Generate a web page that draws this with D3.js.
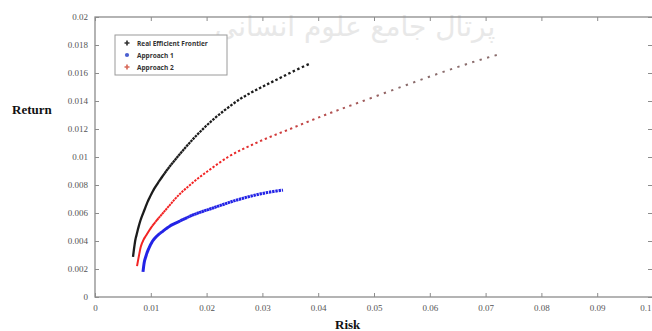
<!DOCTYPE html>
<html>
<head>
<meta charset="utf-8">
<script src="https://cdn.jsdelivr.net/npm/d3@7"></script>
<style>
  body { margin: 0; background: #fff; }
  svg { display: block; }
</style>
</head>
<body>
<script>
// values: [risk, return]
const realFrontier = [
  [0.00681, 0.00286], [0.00699, 0.00343], [0.00717, 0.00393], [0.00753, 0.00457],
  [0.00806, 0.00536], [0.00878, 0.00614], [0.00950, 0.00686], [0.01039, 0.00757],
  [0.01165, 0.00836], [0.01290, 0.00907], [0.01434, 0.00979], [0.01613, 0.01064],
  [0.01792, 0.01143], [0.01971, 0.01214], [0.02151, 0.01279], [0.02330, 0.01336],
  [0.02599, 0.01414], [0.02957, 0.01493], [0.03315, 0.01564], [0.03584, 0.01618],
  [0.03835, 0.01664]
];
const approach1 = [
  [0.00860, 0.00179], [0.00878, 0.00236], [0.00914, 0.00293], [0.00968, 0.00350],
  [0.01022, 0.00393], [0.01093, 0.00429], [0.01219, 0.00471], [0.01344, 0.00507],
  [0.01523, 0.00543], [0.01756, 0.00586], [0.02115, 0.00636], [0.02545, 0.00693],
  [0.02957, 0.00736], [0.03369, 0.00764]
];
const approach2 = [
  [0.00753, 0.0022], [0.00771, 0.0026], [0.00790, 0.0030], [0.00815, 0.0035],
  [0.00860, 0.0040], [0.00932, 0.0045], [0.01013, 0.0050], [0.01111, 0.0055],
  [0.01219, 0.0060], [0.01326, 0.0065], [0.01434, 0.0070], [0.01559, 0.0075],
  [0.01703, 0.0080], [0.01855, 0.0085], [0.02025, 0.0090], [0.02384, 0.0100],
  [0.02885, 0.0110], [0.03495, 0.0120], [0.04122, 0.0130], [0.04803, 0.0140],
  [0.05484, 0.0150], [0.06183, 0.0160], [0.06953, 0.0170], [0.07258, 0.01735]
];
const xTicks = [0, 0.01, 0.02, 0.03, 0.04, 0.05, 0.06, 0.07, 0.08, 0.09, 0.1];
const xTickLabels = ["0", "0.01", "0.02", "0.03", "0.04", "0.05", "0.06", "0.07", "0.08", "0.09", "0.1"];
const yTicks = [0, 0.002, 0.004, 0.006, 0.008, 0.01, 0.012, 0.014, 0.016, 0.018, 0.02];
const yTickLabels = ["0", "0.002", "0.004", "0.006", "0.008", "0.01", "0.012", "0.014", "0.016", "0.018", "0.02"];
const legendNames = ["Real Efficient Frontier", "Approach 1", "Approach 2"];

const W = 652, H = 331;
const plot = {left: 95, right: 653, top: 17, bottom: 297};

const svg = d3.select("body").append("svg")
    .attr("width", W)
    .attr("height", H);

var x = d3.scaleLinear().domain([0, 0.1]).range([plot.left, plot.right]);
var y = d3.scaleLinear().domain([0, 0.02]).range([plot.bottom, plot.top]);

// faint watermark at the top
svg.append("text")
    .attr("x", 355).attr("y", 36)
    .attr("text-anchor", "middle")
    .attr("font-family", "DejaVu Sans")
    .attr("font-size", 28)
    .attr("fill", "#e8e8e8")
    .text("پرتال جامع علوم انسانی");

const axisColor = "#8c8c8c";
const tickFont = "Liberation Serif";

function styleAxis(g, showLabels) {
    g.select(".domain").remove();
    g.selectAll(".tick line").attr("stroke", axisColor);
    g.selectAll(".tick text")
        .attr("fill", "#555")
        .attr("font-family", tickFont)
        .attr("font-size", 9)
        .style("display", showLabels ? null : "none");
}

svg.append("g")
    .attr("transform", `translate(0,${plot.bottom})`)
    .call(d3.axisBottom(x).tickValues(xTicks).tickSize(-4).tickPadding(8)
        .tickFormat((d, i) => xTickLabels[i]))
    .call(g => styleAxis(g, true))
    .call(g => g.selectAll(".tick:last-of-type text").attr("text-anchor", "end").attr("dx", -2));

svg.append("g")
    .attr("transform", `translate(0,${plot.top})`)
    .call(d3.axisTop(x).tickValues(xTicks).tickSize(-4))
    .call(g => styleAxis(g, false));

svg.append("g")
    .attr("transform", `translate(${plot.left},0)`)
    .call(d3.axisLeft(y).tickValues(yTicks).tickSize(-4).tickPadding(7)
        .tickFormat((d, i) => yTickLabels[i]))
    .call(g => styleAxis(g, true));

svg.append("g")
    .attr("transform", `translate(${plot.right - 1},0)`)
    .call(d3.axisRight(y).tickValues(yTicks).tickSize(-4))
    .call(g => styleAxis(g, false));

// frame
svg.append("rect")
    .attr("x", plot.left).attr("y", plot.top)
    .attr("width", plot.right - plot.left)
    .attr("height", plot.bottom - plot.top)
    .attr("fill", "none")
    .attr("stroke", axisColor)
    .attr("stroke-width", 1.3);

// axis titles
svg.append("text")
    .attr("x", 12).attr("y", 114)
    .attr("font-family", tickFont)
    .attr("font-weight", "bold")
    .attr("font-size", 13)
    .attr("fill", "#111")
    .text("Return");

svg.append("text")
    .attr("x", 335).attr("y", 329)
    .attr("font-family", tickFont)
    .attr("font-weight", "bold")
    .attr("font-size", 13)
    .attr("fill", "#111")
    .text("Risk");

// red fades to grey where its markers are sparse
const grad = svg.append("defs").append("linearGradient")
    .attr("id", "redFade")
    .attr("gradientUnits", "userSpaceOnUse")
    .attr("x1", x(0.022)).attr("x2", x(0.055))
    .attr("y1", 0).attr("y2", 0);
grad.append("stop").attr("offset", 0).attr("stop-color", "#f22424");
grad.append("stop").attr("offset", 1).attr("stop-color", "#8a6c6c");

var line = d3.line()
    .x(d => x(d[0]))
    .y(d => y(d[1]))
    .curve(d3.curveMonotoneX);

// dotted look: solid at the bottom, markers spreading out along the curve
function dots(path, dash, maxGap, start, rate) {
    const L = path.node().getTotalLength();
    let s = 0, parts = [];
    while (s < L) {
        const gap = Math.min(maxGap, Math.max(0.01, (s - start) / rate));
        parts.push(dash, gap);
        s += dash + gap;
    }
    path.attr("stroke-dasharray", parts.join(" "));
}

const series = [
    {data: approach1, color: "#2323e6", width: 3, dash: 2.4, gap: 0.9, start: 60, rate: 120},
    {data: approach2, color: "url(#redFade)", width: 2, dash: 2.3, gap: 5.5, start: 40, rate: 50},
    {data: realFrontier, color: "#1c1c1c", width: 2.3, dash: 2.5, gap: 3.4, start: 80, rate: 70}
];

series.forEach(s => {
    const p = svg.append("path")
        .datum(s.data)
        .attr("fill", "none")
        .attr("stroke", s.color)
        .attr("stroke-width", s.width)
        .attr("d", line);
    dots(p, s.dash, s.gap, s.start, s.rate);
});

// legend
const lg = svg.append("g").attr("transform", "translate(115,35)");
lg.append("rect")
    .attr("width", 112).attr("height", 40)
    .attr("fill", "#fff")
    .attr("stroke", "#9a9a9a")
    .attr("stroke-width", 1);

const legendColors = ["#333", "#4a5fd0", "#d86a5a"];
legendNames.forEach((name, i) => {
    const row = lg.append("g").attr("transform", `translate(0,${8 + i * 12})`);
    row.append("path")
        .attr("transform", "translate(12,0)")
        .attr("d", d3.symbol(i == 1 ? d3.symbolCircle : d3.symbolCross, 14))
        .attr("fill", legendColors[i]);
    row.append("text")
        .attr("x", 22).attr("y", 2.5)
        .attr("font-family", "Open Sans")
        .attr("font-weight", "bold")
        .attr("font-size", 6.5)
        .attr("fill", "#333")
        .text(name);
});
</script>
</body>
</html>
